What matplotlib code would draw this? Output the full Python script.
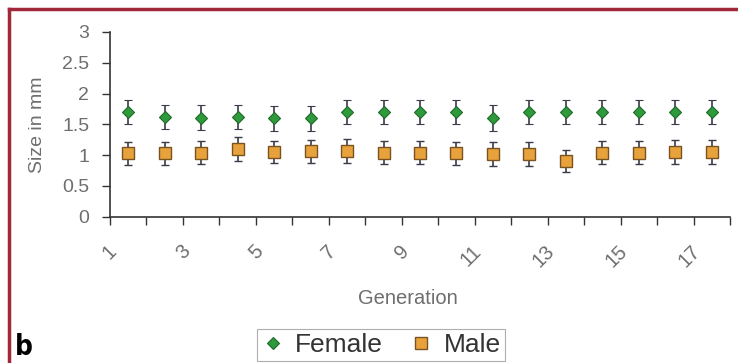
import matplotlib
matplotlib.use("Agg")
import matplotlib.pyplot as plt
from matplotlib.lines import Line2D
from matplotlib.transforms import ScaledTranslation
import numpy as np

# Body size per generation (mm), mean and spread
generations = list(range(1, 18))
female_mean = [1.70, 1.62, 1.61, 1.62, 1.60, 1.60, 1.70, 1.70, 1.70, 1.70, 1.60, 1.70, 1.70, 1.70, 1.70, 1.70, 1.70]
female_err = [0.20, 0.20, 0.20, 0.20, 0.20, 0.20, 0.20, 0.20, 0.20, 0.20, 0.21, 0.20, 0.20, 0.20, 0.20, 0.20, 0.20]
male_mean = [1.03, 1.03, 1.04, 1.10, 1.05, 1.06, 1.07, 1.04, 1.04, 1.03, 1.02, 1.02, 0.91, 1.04, 1.04, 1.05, 1.05]
male_err = [0.19, 0.19, 0.19, 0.20, 0.18, 0.18, 0.19, 0.19, 0.19, 0.19, 0.19, 0.19, 0.18, 0.19, 0.19, 0.19, 0.19]
y_ticks = [0, 0.5, 1, 1.5, 2, 2.5, 3]
y_tick_labels = ["0", "0.5", "1", "1.5", "2", "2.5", "3"]
x_label_gens = [1, 3, 5, 7, 9, 11, 13, 15, 17]

plt.rcParams["font.family"] = ["Liberation Sans", "DejaVu Sans"]

fig = plt.figure(figsize=(7.38, 3.63), dpi=100)
fig.patch.set_facecolor("white")
ax = fig.add_axes([110 / 738, 1 - 216.7 / 363, 620 / 738, (216.7 - 32) / 363])

err_col = "#3b3b4a"
fem = ax.errorbar(generations, female_mean, yerr=female_err, fmt="D", ms=6.5,
                  mfc="#2f9a3c", mec="#1e6a2a", mew=0.8,
                  ecolor=err_col, elinewidth=1.2, capsize=3.2, capthick=1.2,
                  label="Female", zorder=3)
mal = ax.errorbar(generations, male_mean, yerr=male_err, fmt="s", ms=8.5,
                  mfc="#e8a23c", mec="#7a5222", mew=1.0,
                  ecolor=err_col, elinewidth=1.2, capsize=3.2, capthick=1.2,
                  label="Male", zorder=3)

ax.set_xlim(0.5, len(generations) + 0.5)
ax.set_ylim(0, 3)

for side in ("top", "right"):
    ax.spines[side].set_visible(False)
for side in ("left", "bottom"):
    ax.spines[side].set_color("#333333")
    ax.spines[side].set_linewidth(1.2)

tick_gray = "#6e6e6e"
ax.set_yticks(y_ticks)
ax.set_yticklabels(y_tick_labels)
ax.tick_params(axis="y", direction="out", length=6, width=1.0, color="#333333",
               pad=9, labelsize=14, labelcolor=tick_gray)

# tick marks between categories, labels on odd generations
ax.set_xticks(np.arange(0.5, len(generations) + 1, 1.0))
ax.set_xticklabels([])
ax.tick_params(axis="x", which="major", direction="out", length=6, width=1.0,
               color="#333333")
ax.set_xticks(x_label_gens, minor=True)
ax.set_xticklabels([str(g) for g in x_label_gens], minor=True)
ax.tick_params(axis="x", which="minor", length=0, pad=18, labelsize=14.5,
               labelcolor=tick_gray)
shift = ScaledTranslation(-21 / 100, 0, fig.dpi_scale_trans)
for lab in ax.get_xticklabels(minor=True):
    lab.set_rotation(45)
    lab.set_ha("right")
    lab.set_va("top")
    lab.set_rotation_mode("anchor")
    lab.set_transform(lab.get_transform() + shift)

ax.set_ylabel("Size in mm", fontsize=14, color=tick_gray)
ax.yaxis.set_label_coords(-0.103, 0.5)
ax.set_xlabel("Generation", fontsize=14.5, color=tick_gray)
ax.xaxis.set_label_coords(0.481, -0.39)

leg = fig.legend([fem[0], mal[0]], ["Female", "Male"], ncol=2,
                 loc="upper center", bbox_to_anchor=(381 / 738, 1 - 329 / 363),
                 fontsize=19, frameon=True, fancybox=False, borderpad=0.15,
                 handlelength=0.9, handletextpad=0.4, columnspacing=1.0,
                 borderaxespad=0)
leg.get_frame().set_edgecolor("#9a9a9a")
leg.get_frame().set_linewidth(0.8)
for t in leg.get_texts():
    t.set_color("#333333")

# panel frame and letter
frame_col = "#a0283a"
fig.add_artist(Line2D([9 / 738, 1.0], [1 - 9 / 363, 1 - 9 / 363],
                      transform=fig.transFigure, color=frame_col, lw=2.5))
fig.add_artist(Line2D([9 / 738, 9 / 738], [0, 1 - 9 / 363],
                      transform=fig.transFigure, color=frame_col, lw=2.5))
fig.text(15 / 738, 8 / 363, "b", fontsize=20, fontweight="bold",
         family="DejaVu Sans", fontstretch="condensed", color="black",
         ha="left", va="baseline")

fig.savefig("out.png", dpi=100)
